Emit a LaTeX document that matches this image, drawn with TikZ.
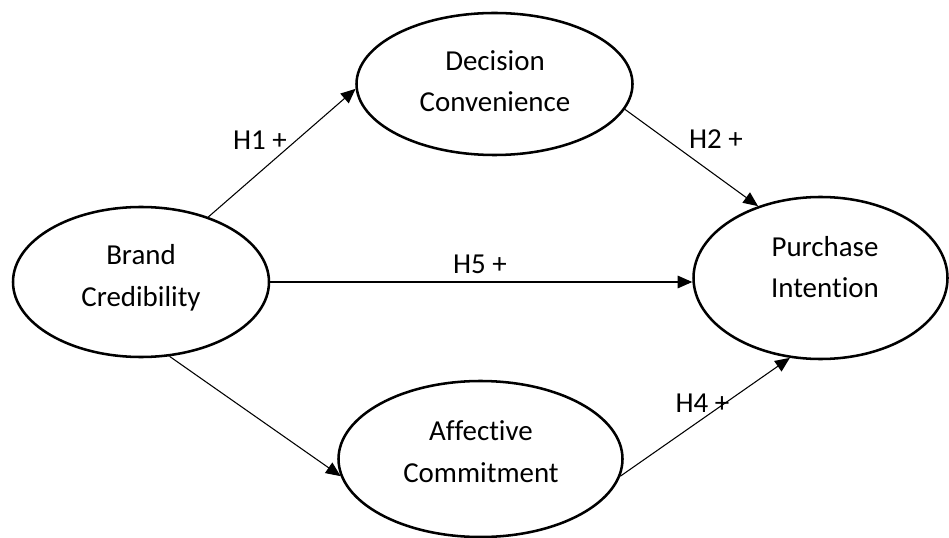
\documentclass[tikz,border=0pt]{standalone}
\usepackage{fontspec}
\setmainfont{Carlito}[RawFeature={-liga;-clig;-dlig}]
\usetikzlibrary{arrows.meta,calc,shapes.geometric}
\begin{document}
\begin{tikzpicture}[x=0.75pt,y=-0.75pt,
  latent/.style={draw=black,line width=1.9pt,ellipse,inner sep=0pt},
  txt/.style={anchor=base,inner sep=0pt,font=\fontsize{21.7pt}{26pt}\selectfont},
  conn/.style={draw=black,line width=0.8pt,-{Triangle[length=11pt,width=9.5pt]}}]
\fill[white] (0,0) rectangle (949,538);
\useasboundingbox (0,0) rectangle (949,538);
% ellipses
\node[latent,minimum width=192pt,minimum height=112.5pt] (bc) at (141,282) {};
\node[latent,minimum width=207pt,minimum height=106.5pt] (dc) at (494.5,84) {};
\node[latent,minimum width=190.5pt,minimum height=121.5pt] (pi) at (820.5,278) {};
\node[latent,minimum width=213pt,minimum height=117pt] (ac) at (480.5,459) {};
% ellipse texts
\node[txt] (bcA) at (141,265) {Brand};
\node[txt] (bcB) at (141,306) {Credibility};
\node[txt] (dcA) at (495,71) {Decision};
\node[txt] (dcB) at (495,112) {Convenience};
\node[txt] (piA) at (825,257) {Purchase};
\node[txt] (piB) at (825,297) {Intention};
\node[txt] (acA) at (481,440) {Affective};
\node[txt] (acB) at (481,482) {Commitment};
% connectors
\draw[conn] (bc.44) -- (dc.182);
\draw[conn] (dc.-11) -- (pi.131);
\draw[conn] (bc.east) -- (bc.east -| pi.west);
\draw[conn] (bc.-69) -- (ac.187);
\draw[conn] (ac.-7.5) -- (pi.249);
% labels
\node[txt] (h1) at (260,150) {H1 +};
\node[txt] (h2) at (716,149) {H2 +};
\node[txt] (h5) at (480,273) {H5 +};
\node[txt] (h4) at (702.5,412) {H4 +};
\end{tikzpicture}
\end{document}
